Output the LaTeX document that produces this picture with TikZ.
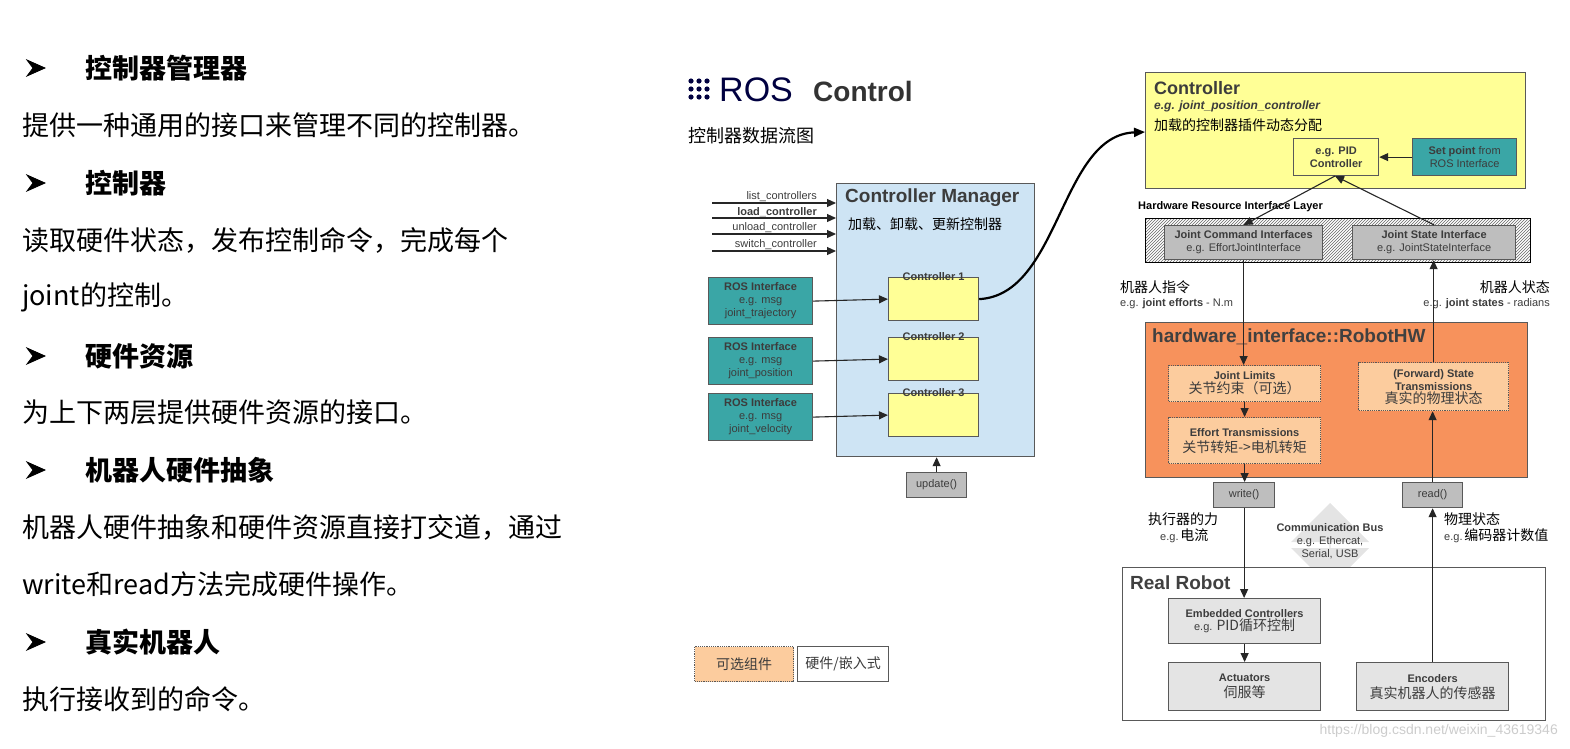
\documentclass[tikz,border=0pt]{standalone}
\usepackage{fontspec}
\setmainfont{Liberation Sans}
\newfontfamily\cjk{Noto Sans CJK SC}
\usetikzlibrary{arrows.meta,patterns,shapes.arrows}
\definecolor{cmblue}{RGB}{206,228,244}
\definecolor{teal2}{RGB}{58,166,166}
\definecolor{ylw}{RGB}{255,255,150}
\definecolor{org}{RGB}{247,146,92}
\definecolor{lorg}{RGB}{252,204,158}
\definecolor{gbox}{RGB}{190,190,190}
\definecolor{lgray}{RGB}{228,228,228}
\definecolor{txt}{RGB}{60,60,60}
\newcommand{\fs}[1]{\fontsize{#1}{#1}\selectfont}
\begin{document}
\begin{tikzpicture}[x=1pt,y=-1pt,
  box/.style={draw=gray!70!black,line width=1.2pt,anchor=north west,inner sep=0pt},
  arr/.style={-{Triangle[length=9pt,width=8pt]},line width=1.1pt,black!85},
  lt/.style={anchor=west,inner sep=0pt,text=black},
  st/.style={align=center,inner sep=0pt,text=txt}]
\useasboundingbox (0,0) rectangle (1570,748);
% left text
\foreach \y/\t in {68/控制器管理器,183/控制器,356/硬件资源,470/机器人硬件抽象,642/真实机器人}{
  \filldraw[black,line width=0.8pt] (27,\y-8) -- (45,\y) -- (27,\y+8) -- (33,\y) -- cycle;
  \node[lt] at (85,\y) {\cjk\bfseries\fs{27}\t};}
\node[lt] at (22,125) {\cjk\fs{27}提供一种通用的接口来管理不同的控制器。};
\node[lt] at (22,240) {\cjk\fs{27}读取硬件状态，发布控制命令，完成每个};
\node[lt] at (22,297) {\cjk\fs{27}joint的控制。};
\node[lt] at (22,412) {\cjk\fs{27}为上下两层提供硬件资源的接口。};
\node[lt] at (22,527) {\cjk\fs{27}机器人硬件抽象和硬件资源直接打交道，通过};
\node[lt] at (22,584) {\cjk\fs{27}write和read方法完成硬件操作。};
\node[lt] at (22,699) {\cjk\fs{27}执行接收到的命令。};
% ROS logo
\foreach \i in {0,1,2}\foreach \j in {0,1,2}{\fill[black!75!blue] (691+\i*8,81+\j*8) circle (2.6);}
\node[lt,text=black!75!blue] at (719,90) {\fs{34}ROS};
\node[lt,text=black!80] at (813,91) {\bfseries\fs{28}Control};
\node[lt] at (688,136) {\cjk\fs{18}控制器数据流图};
% controller manager
\node[box,fill=cmblue,minimum width=198pt,minimum height=273pt] (cm) at (836,183) {};
\node[lt,text=txt] at (845,198) {\bfseries\fs{19}Controller Manager};
\node[lt] at (848,224) {\cjk\fs{14}加载、卸载、更新控制器};
\foreach \y/\t/\n in {203/list\_controllers/a,218/\textbf{load\_controller}/b,234/unload\_controller/c,251/switch\_controller/d}{
  \coordinate (s\n) at (712,\y); \coordinate (e\n) at (836,\y);
  \draw[arr] (s\n) -- (e\n);
  \node[anchor=south east,inner sep=1pt,text=txt] at (818,\y) {\fs{11}\t};}
\foreach \n/\y/\m in {1/277/joint\_trajectory,2/337/joint\_position,3/393/joint\_velocity}{
  \node[box,fill=teal2,minimum width=104pt,minimum height=47pt] (ri\n) at (708,\y) {};
  \node[st] at (ri\n.center) {\fs{11}\textbf{ROS Interface}\\[1pt]\fs{11}e.g. msg\\[1pt]\fs{11}\m};
  \node[box,fill=ylw,minimum width=90pt,minimum height=43pt] (c\n) at (888,\y) {};
  \node[st,anchor=north] at ([yshift=5pt]c\n.north) {\bfseries\fs{11}Controller \n};
  \draw[arr] (ri\n.east) -- (c\n.west);}
\node[box,fill=gbox,minimum width=60pt,minimum height=25pt] (upd) at (906,472) {};
\node[st] at (upd.center) {\fs{11}update()};
\draw[arr] (upd.north) -- (cm.south -| upd.north);
% controller
\node[box,fill=ylw,minimum width=380pt,minimum height=116pt] (ctl) at (1145,72) {};
\node[lt,text=txt] at (1154,88) {\bfseries\fs{18}Controller};
\node[lt,text=txt] at (1154,106) {\bfseries\itshape\fs{12}e.g. joint\_position\_controller};
\node[lt] at (1154,125) {\cjk\fs{14}加载的控制器插件动态分配};
\node[box,fill=ylw,minimum width=85pt,minimum height=37pt] (pid) at (1293,138) {};
\node[st] at (pid.center) {\bfseries\fs{11}e.g. PID\\[1pt]\bfseries\fs{11}Controller};
\node[box,fill=teal2,minimum width=104pt,minimum height=37pt] (sp) at (1412,138) {};
\node[st] at (sp.center) {\fs{11}\textbf{Set point} from\\[1pt]\fs{11}ROS Interface};
\draw[arr] (sp.west) -- (pid.east);
\coordinate (ctlin) at (1145,132);
\draw[-{Triangle[length=11pt,width=9pt]},line width=2.2pt] (c1.east) .. controls (1060,295) and (1060,135) .. (ctlin);
% HW interface layer
\node[lt] at (1138,207) {\bfseries\fs{11}Hardware Resource Interface Layer};
\node[box,draw=black,pattern=north east lines,pattern color=black!60,minimum width=385pt,minimum height=44pt] (hl) at (1145,218) {};
\node[box,fill=gbox,minimum width=158pt,minimum height=34pt] (jci) at (1164,225) {};
\node[st] at (jci.center) {\bfseries\fs{11}Joint Command Interfaces\\[1pt]\fs{11}e.g. EffortJointInterface};
\node[box,fill=gbox,minimum width=163pt,minimum height=34pt] (jsi) at (1352,225) {};
\node[st] at (jsi.center) {\bfseries\fs{11}Joint State Interface\\[1pt]\fs{11}e.g. JointStateInterface};
\coordinate (pidb) at (1335,176);
\draw[arr] (pidb) -- (jci.north);
\draw[arr] (jsi.north) -- (pidb);
\node[lt] at (1120,287) {\cjk\fs{14}机器人指令};
\node[lt,text=txt] at (1120,304) {\fs{11}e.g. \textbf{joint efforts} - N.m};
\node[anchor=east,inner sep=0pt] at (1550,287) {\cjk\fs{14}机器人状态};
\node[anchor=east,inner sep=0pt,text=txt] at (1550,304) {\fs{11}e.g. \textbf{joint states} - radians};
% RobotHW
\node[box,fill=org,minimum width=382pt,minimum height=155pt] (hw) at (1145,322) {};
\node[lt,text=black!75] at (1152,337) {\bfseries\fs{19}hardware\_interface::RobotHW};
\node[box,fill=lorg,densely dotted,minimum width=152pt,minimum height=36pt] (jl) at (1168,365) {};
\node[st] at (jl.center) {\bfseries\fs{11}Joint Limits\\[1pt]\cjk\fs{14}关节约束（可选）};
\node[box,fill=lorg,densely dotted,minimum width=152pt,minimum height=46pt] (et) at (1168,417) {};
\node[st] at (et.center) {\bfseries\fs{11}Effort Transmissions\\[4pt]\cjk\fs{14}关节转矩->电机转矩};
\node[box,fill=lorg,densely dotted,minimum width=150pt,minimum height=48pt] (fs) at (1358,362) {};
\node[st] at (fs.center) {\bfseries\fs{11}(Forward) State\\[1pt]\bfseries\fs{11}Transmissions\\[1pt]\cjk\fs{14}真实的物理状态};
\node[box,fill=gbox,minimum width=61pt,minimum height=25pt] (wr) at (1213,482) {};
\node[st] at (wr.center) {\fs{11}write()};
\node[box,fill=gbox,minimum width=60pt,minimum height=25pt] (rd) at (1402,482) {};
\node[st] at (rd.center) {\fs{11}read()};
% comm bus
\node[double arrow,fill=lgray,shape border rotate=90,minimum height=84pt,minimum width=78pt,double arrow head extend=12pt,inner sep=0pt] (bus) at (1330,545) {};
\node[st] at (1330,541) {\bfseries\fs{11}Communication Bus\\[1pt]\fs{11}e.g. Ethercat,\\[1pt]\fs{11}Serial, USB};
\node[lt] at (1148,519) {\cjk\fs{14}执行器的力};
\node[lt] at (1160,536) {\fs{11}\textcolor{txt}{e.g.}\,\cjk\fs{14}电流};
\node[lt] at (1444,519) {\cjk\fs{14}物理状态};
\node[lt] at (1444,536) {\fs{11}\textcolor{txt}{e.g.}\,\cjk\fs{14}编码器计数值};
% real robot
\node[box,fill=white,minimum width=423pt,minimum height=153pt] (rr) at (1122,567) {};
\node[lt,text=black!75] at (1130,583) {\bfseries\fs{19}Real Robot};
\node[box,fill=lgray,minimum width=152pt,minimum height=45pt] (emb) at (1168,598) {};
\node[st] at (emb.center) {\bfseries\fs{11}Embedded Controllers\\[1pt]\fs{11}e.g. \cjk\fs{14}PID循环控制};
\node[box,fill=lgray,minimum width=152pt,minimum height=48pt] (act) at (1168,662) {};
\node[st] at (act.center) {\bfseries\fs{11}Actuators\\[4pt]\cjk\fs{14}伺服等};
\node[box,fill=lgray,minimum width=152pt,minimum height=48pt] (enc) at (1356,662) {};
\node[st] at (enc.center) {\bfseries\fs{11}Encoders\\[4pt]\cjk\fs{14}真实机器人的传感器};
% arrows down/up
\draw[arr] (jci.south) -- (jl.north -| jci.south);
\draw[arr] (jl.south) -- (et.north);
\draw[arr] (et.south) -- (wr.north -| et.south);
\draw[arr] (wr.south) -- (emb.north -| wr.south);
\draw[arr] (emb.south) -- (act.north);
\draw[arr] (enc.north) -- (rd.south -| enc.north);
\draw[arr] (rd.north) -- (fs.south -| rd.north);
\draw[arr] (fs.north) -- (jsi.south -| fs.north);
% legend
\node[box,fill=lorg,densely dotted,minimum width=99pt,minimum height=35pt] (lg1) at (694,646) {};
\node[st] at (lg1.center) {\cjk\fs{14}可选组件};
\node[box,fill=white,minimum width=91pt,minimum height=35pt] (lg2) at (797,646) {};
\node[st] at (lg2.center) {\cjk\fs{14}硬件/嵌入式};
\node[anchor=east,inner sep=0pt,text=black!20] at (1558,731) {\fs{14}https://blog.csdn.net/weixin\_43619346};
\end{tikzpicture}
\end{document}
